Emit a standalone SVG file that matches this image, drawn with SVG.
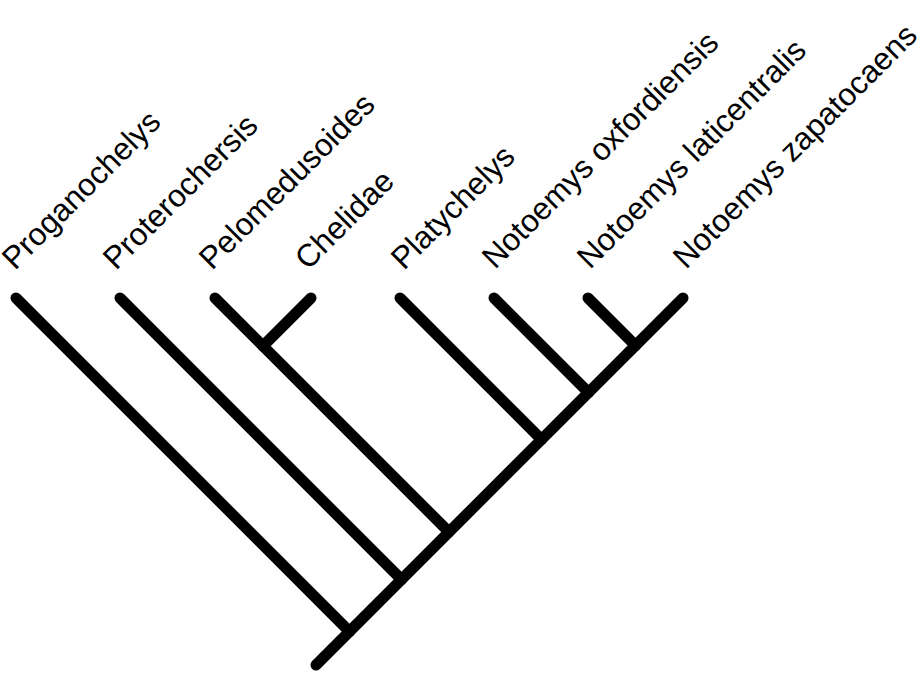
<svg xmlns="http://www.w3.org/2000/svg" width="922" height="674" viewBox="0 0 922 674">
<style>
.br{stroke:#000;stroke-width:11;stroke-linecap:round;fill:none}
.lb{font-family:"Liberation Sans",Arial,sans-serif;font-size:31.5px;fill:#000}
</style>
<rect width="922" height="674" fill="#fff"/>
<g id="connectors">
<line class="br" x1="316" y1="665" x2="683" y2="298"/>
<line class="br" x1="16" y1="298" x2="349.5" y2="631.5"/>
<line class="br" x1="120" y1="298" x2="401.5" y2="579.5"/>
<line class="br" x1="215" y1="298" x2="449" y2="532"/>
<line class="br" x1="311" y1="298" x2="263" y2="346"/>
<line class="br" x1="400" y1="298" x2="541.5" y2="439.5"/>
<line class="br" x1="494" y1="298" x2="588.5" y2="392.5"/>
<line class="br" x1="588" y1="298" x2="635.5" y2="345.5"/>
</g>
<g id="proganochelys"><text class="lb" transform="translate(15,271) rotate(-45)">Proganochelys</text></g>
<g id="proterochersis"><text class="lb" transform="translate(116,271) rotate(-45)">Proterochersis</text></g>
<g id="pelomedusoides"><text class="lb" transform="translate(212,271) rotate(-45)">Pelomedusoides</text></g>
<g id="chelidae"><text class="lb" transform="translate(308,271) rotate(-45)">Chelidae</text></g>
<g id="platychelys"><text class="lb" transform="translate(404,271) rotate(-45)">Platychelys</text></g>
<g id="notoemys-oxfordiensis"><text class="lb" transform="translate(495,270) rotate(-45)">Notoemys oxfordiensis</text></g>
<g id="notoemys-laticentralis"><text class="lb" transform="translate(590,270) rotate(-45)">Notoemys laticentralis</text></g>
<g id="notoemys-zapatocaens"><text class="lb" transform="translate(686,270) rotate(-45)">Notoemys zapatocaens</text></g>
</svg>
